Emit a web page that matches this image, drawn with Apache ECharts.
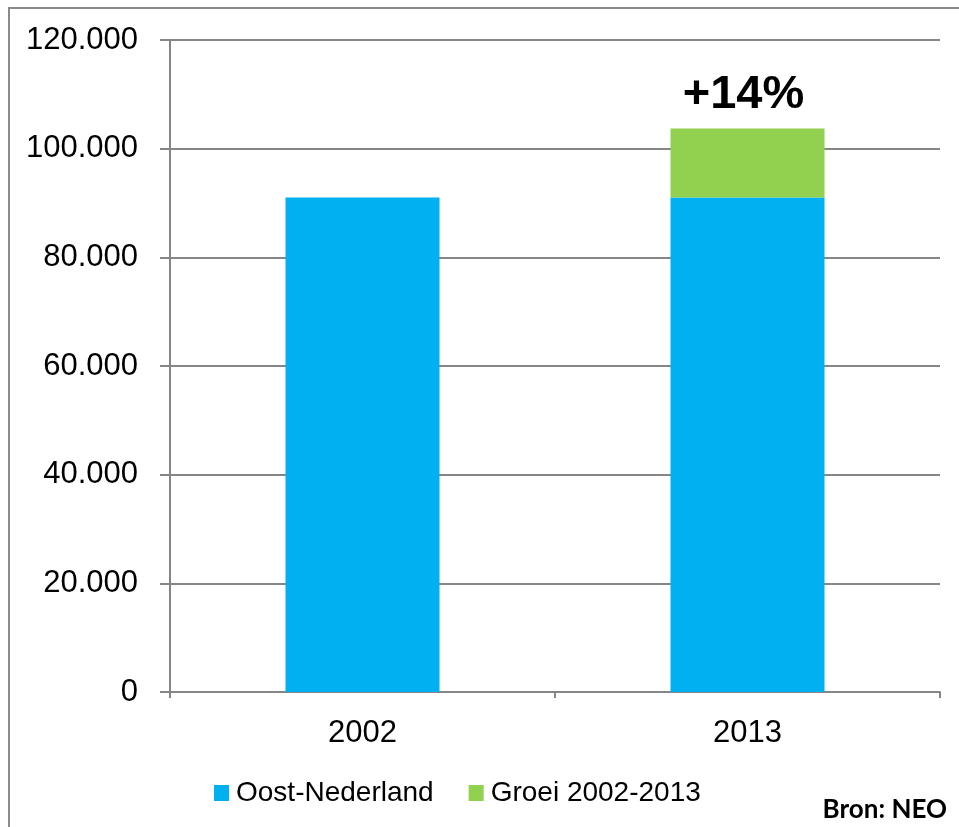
<!DOCTYPE html>
<html>
<head>
<meta charset="utf-8">
<script src="https://cdn.jsdelivr.net/npm/echarts@6/dist/echarts.min.js"></script>
<style>
  html, body { margin: 0; padding: 0; background: #fff; }
  #chart { width: 959px; height: 827px; }
</style>
</head>
<body>
<div id="chart"></div>
<script>
var categories = ["2002", "2013"];
var oostValues = [91000, 91000];
var groeiValues = [null, 12700];
var groeiLabels = ["", "+14%"];
var yTicks = { min: 0, max: 120000, interval: 20000 };

var chart = echarts.init(document.getElementById("chart"));

function fmt(v) {
  // 120000 -> 120.000
  return String(v).replace(/\B(?=(\d{3})+(?!\d))/g, ".");
}

var option = {
  animation: false,
  textStyle: { fontFamily: "Liberation Sans, Arial, sans-serif" },
  color: ["#00B0F0", "#92D050"],
  grid: { left: 170, right: 19, top: 40, bottom: 135 },
  legend: {
    left: 209,
    top: 774,
    itemWidth: 15,
    itemHeight: 16,
    itemGap: 35,
    icon: "rect",
    textStyle: { fontSize: 28, color: "#000", padding: [0, 0, 0, 2] },
    data: ["Oost-Nederland", "Groei 2002-2013"]
  },
  xAxis: {
    type: "category",
    data: categories,
    axisLine: { lineStyle: { color: "#868686", width: 2 } },
    axisTick: { show: true, length: 6, lineStyle: { color: "#868686", width: 2 } },
    axisLabel: { color: "#000", fontSize: 31, margin: 26 }
  },
  yAxis: {
    type: "value",
    min: yTicks.min,
    max: yTicks.max,
    interval: yTicks.interval,
    axisLine: { show: true, lineStyle: { color: "#868686", width: 2 } },
    axisTick: { show: true, length: 10, lineStyle: { color: "#868686", width: 2 } },
    splitLine: { lineStyle: { color: "#868686", width: 2 } },
    axisLabel: {
      color: "#000",
      fontSize: 31,
      margin: 32,
      formatter: function (v) { return fmt(v); }
    }
  },
  series: [
    {
      name: "Oost-Nederland",
      type: "bar",
      stack: "totaal",
      barWidth: "40%",
      data: oostValues
    },
    {
      name: "Groei 2002-2013",
      type: "bar",
      stack: "totaal",
      barWidth: "40%",
      data: groeiValues.map(function (v, i) {
        return {
          value: v,
          label: {
            show: !!groeiLabels[i],
            position: "top",
            distance: 10,
            offset: [-4, 0],
            formatter: groeiLabels[i],
            fontSize: 47,
            fontWeight: "bold",
            color: "#000"
          }
        };
      })
    }
  ],
  graphic: [
    {
      type: "rect",
      shape: { x: 9, y: 8, width: 1000, height: 1000 },
      style: { fill: "none", stroke: "#8a8a8a", lineWidth: 2 },
      silent: true
    },
    {
      type: "text",
      right: 12,
      top: 797,
      style: {
        text: "Bron: NEO",
        font: "bold 26px Lato, sans-serif",
        fill: "#000"
      }
    }
  ]
};

chart.setOption(option);
</script>
</body>
</html>
